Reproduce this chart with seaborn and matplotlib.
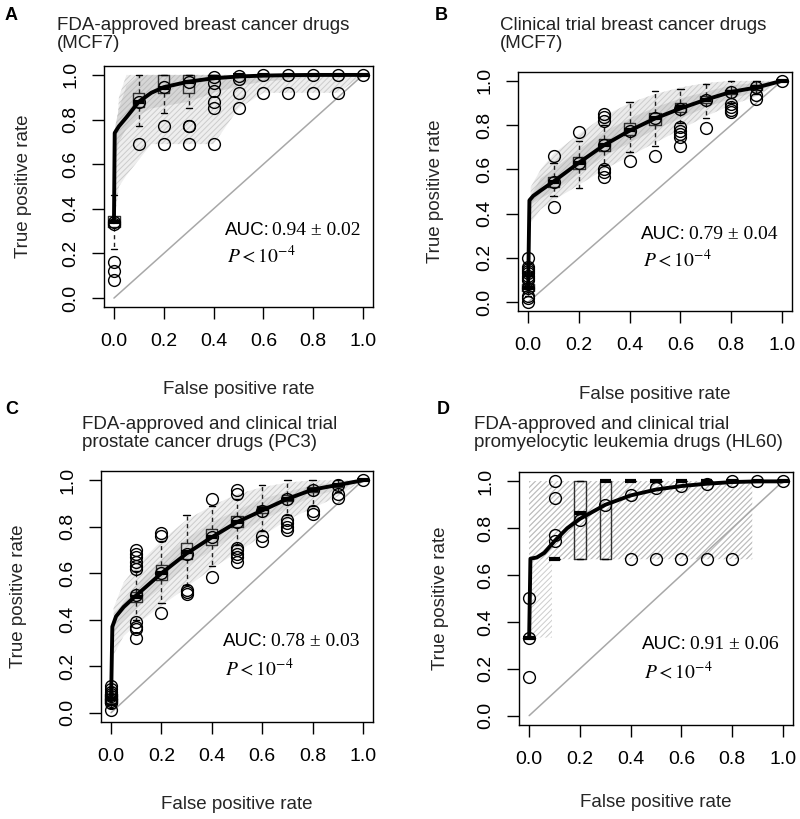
import numpy as np
import pandas as pd
import matplotlib
matplotlib.use("Agg")
import matplotlib.pyplot as plt
import seaborn as sns

# ---------------- data ----------------
FPR = [0.0, 0.1, 0.2, 0.3, 0.4, 0.5, 0.6, 0.7, 0.8, 0.9, 1.0]
TICKS = [0.0, 0.2, 0.4, 0.6, 0.8, 1.0]
TICK_LABELS = ["0.0", "0.2", "0.4", "0.6", "0.8", "1.0"]

# Panel A
A_title = "FDA-approved breast cancer drugs\n(MCF7)"
A_auc = "0.94 \u00b1 0.02"
A_med = [0.34, 0.88, 0.94, 0.97, 0.99, 1.0, 1.0, 1.0, 1.0, 1.0, 1.0]
A_q1 = [0.32, 0.855, 0.92, 0.92, 0.985, 1.0, 1.0, 1.0, 1.0, 1.0, 1.0]
A_q3 = [0.37, 0.92, 1.0, 1.0, 1.0, 1.0, 1.0, 1.0, 1.0, 1.0, 1.0]
A_wlo = [0.22, 0.77, 0.83, 0.85, 0.985, 1.0, 1.0, 1.0, 1.0, 1.0, 1.0]
A_whi = [0.46, 1.0, 1.0, 1.0, 1.0, 1.0, 1.0, 1.0, 1.0, 1.0, 1.0]
A_out = [[0.16, 0.12, 0.08, 0.33], [0.69], [0.77, 0.69], [0.77, 0.77, 0.69],
         [0.965, 0.93, 0.88, 0.85, 0.69], [0.98, 0.92, 0.85], [0.92], [0.92],
         [0.92], [0.92], []]
A_mean = [0.34, 0.88, 0.945, 0.97, 0.99, 0.995, 1.0, 1.0, 1.0, 1.0, 1.0]
A_cx = [0.0, 0.003, 0.02, 0.05, 0.1, 0.15, 0.2, 0.3, 0.4, 0.5, 0.6, 0.7, 0.8, 0.9, 1.0]
A_cy = [0.34, 0.74, 0.77, 0.81, 0.88, 0.92, 0.945, 0.97, 0.985, 0.993, 0.997, 0.999, 1.0, 1.0, 1.0]
A_bx = [0.0, 0.02, 0.05, 0.1, 0.15, 0.2, 0.3, 0.4, 0.5, 0.6, 0.7, 0.8, 0.9, 1.0]
A_olo = [0.33, 0.5, 0.55, 0.62, 0.69, 0.69, 0.69, 0.69, 0.85, 0.92, 0.92, 0.92, 0.92, 1.0]
A_ohi = [0.5, 0.9, 1.0, 1.0, 1.0, 1.0, 1.0, 1.0, 1.0, 1.0, 1.0, 1.0, 1.0, 1.0]
A_ilo = [0.6, 0.7, 0.76, 0.82, 0.85, 0.86, 0.88, 0.92, 0.95, 0.97, 0.98, 0.99, 0.99, 1.0]
A_ihi = [0.74, 0.85, 0.95, 1.0, 1.0, 1.0, 1.0, 1.0, 1.0, 1.0, 1.0, 1.0, 1.0, 1.0]

# Panel B
B_title = "Clinical trial breast cancer drugs\n(MCF7)"
B_auc = "0.79 \u00b1 0.04"
B_med = [0.065, 0.545, 0.63, 0.71, 0.78, 0.83, 0.88, 0.915, 0.95, 0.97, 1.0]
B_q1 = [0.05, 0.52, 0.60, 0.685, 0.755, 0.80, 0.857, 0.90, 0.94, 0.96, 1.0]
B_q3 = [0.08, 0.565, 0.655, 0.735, 0.81, 0.855, 0.90, 0.93, 0.96, 0.98, 1.0]
B_wlo = [0.03, 0.48, 0.515, 0.62, 0.68, 0.705, 0.81, 0.83, 0.90, 0.94, 1.0]
B_whi = [0.12, 0.63, 0.73, 0.80, 0.905, 0.955, 0.965, 0.985, 1.0, 1.0, 1.0]
B_out = [[0.2, 0.16, 0.15, 0.14, 0.13, 0.12, 0.11, 0.10, 0.03, 0.02, 0.0],
         [0.66, 0.43], [0.77], [0.85, 0.835, 0.82, 0.60, 0.59, 0.565], [0.64],
         [0.66], [0.79, 0.775, 0.76, 0.745, 0.705], [0.785],
         [0.895, 0.88, 0.87, 0.86], [0.935, 0.92], []]
B_mean = [0.065, 0.545, 0.63, 0.71, 0.775, 0.83, 0.875, 0.915, 0.95, 0.97, 1.0]
B_cx = [0.0, 0.005, 0.02, 0.05, 0.1, 0.2, 0.3, 0.4, 0.5, 0.6, 0.7, 0.8, 0.9, 1.0]
B_cy = [0.065, 0.46, 0.48, 0.505, 0.545, 0.63, 0.71, 0.775, 0.83, 0.875, 0.915, 0.95, 0.97, 1.0]
B_bx = [0.01, 0.05, 0.1, 0.2, 0.3, 0.4, 0.5, 0.6, 0.7, 0.8, 0.9, 1.0]
B_olo = [0.36, 0.42, 0.46, 0.53, 0.60, 0.66, 0.72, 0.78, 0.84, 0.89, 0.93, 1.0]
B_ohi = [0.52, 0.60, 0.67, 0.76, 0.84, 0.90, 0.94, 0.97, 0.99, 1.0, 1.0, 1.0]
B_ilo = [0.44, 0.47, 0.50, 0.58, 0.66, 0.72, 0.78, 0.83, 0.88, 0.92, 0.95, 1.0]
B_ihi = [0.48, 0.56, 0.60, 0.69, 0.77, 0.83, 0.88, 0.92, 0.95, 0.98, 0.99, 1.0]

# Panel C
C_title = "FDA-approved and clinical trial\nprostate cancer drugs (PC3)"
C_auc = "0.78 \u00b1 0.03"
C_med = [0.06, 0.50, 0.60, 0.69, 0.755, 0.82, 0.875, 0.92, 0.96, 0.98, 1.0]
C_q1 = [0.04, 0.475, 0.57, 0.66, 0.72, 0.80, 0.86, 0.91, 0.95, 0.97, 1.0]
C_q3 = [0.08, 0.52, 0.635, 0.73, 0.79, 0.845, 0.89, 0.935, 0.97, 0.985, 1.0]
C_wlo = [0.02, 0.40, 0.47, 0.55, 0.63, 0.72, 0.78, 0.85, 0.89, 0.95, 1.0]
C_whi = [0.11, 0.61, 0.74, 0.85, 0.89, 0.92, 0.98, 1.0, 1.0, 1.0, 1.0]
C_out = [[0.115, 0.10, 0.09, 0.08, 0.07, 0.06, 0.05, 0.04, 0.01],
         [0.70, 0.685, 0.67, 0.65, 0.63, 0.62, 0.39, 0.37, 0.36, 0.32],
         [0.775, 0.76, 0.43], [0.53, 0.52, 0.51], [0.92, 0.585],
         [0.96, 0.94, 0.71, 0.70, 0.685, 0.67, 0.65], [0.76, 0.74],
         [0.83, 0.815, 0.80, 0.785], [0.87, 0.855], [0.94, 0.925], []]
C_mean = [0.06, 0.505, 0.60, 0.685, 0.755, 0.82, 0.87, 0.92, 0.96, 0.98, 1.0]
C_cx = [0.0, 0.005, 0.02, 0.05, 0.1, 0.2, 0.3, 0.4, 0.5, 0.6, 0.7, 0.8, 0.9, 1.0]
C_cy = [0.05, 0.37, 0.415, 0.455, 0.505, 0.60, 0.685, 0.755, 0.82, 0.87, 0.92, 0.96, 0.98, 1.0]
C_bx = [0.01, 0.05, 0.1, 0.2, 0.3, 0.4, 0.5, 0.6, 0.7, 0.8, 0.9, 1.0]
C_olo = [0.25, 0.33, 0.38, 0.46, 0.54, 0.62, 0.69, 0.76, 0.83, 0.88, 0.93, 1.0]
C_ohi = [0.45, 0.56, 0.63, 0.74, 0.83, 0.89, 0.94, 0.97, 0.99, 1.0, 1.0, 1.0]
C_ilo = [0.34, 0.40, 0.45, 0.54, 0.63, 0.70, 0.77, 0.83, 0.88, 0.93, 0.96, 1.0]
C_ihi = [0.40, 0.48, 0.55, 0.66, 0.75, 0.82, 0.87, 0.92, 0.95, 0.98, 0.99, 1.0]

# Panel D
D_title = "FDA-approved and clinical trial\npromyelocytic leukemia drugs (HL60)"
D_auc = "0.91 \u00b1 0.06"
D_med = [0.333, 0.667, 0.867, 1.0, 1.0, 1.0, 1.0, 1.0, 1.0, 1.0, 1.0]
D_q1 = [0.333, 0.667, 0.667, 0.667, 1.0, 1.0, 1.0, 1.0, 1.0, 1.0, 1.0]
D_q3 = [0.333, 0.667, 1.0, 1.0, 1.0, 1.0, 1.0, 1.0, 1.0, 1.0, 1.0]
D_wlo = [0.333, 0.667, 0.667, 0.667, 1.0, 1.0, 1.0, 1.0, 1.0, 1.0, 1.0]
D_whi = [0.333, 0.667, 1.0, 1.0, 1.0, 1.0, 1.0, 1.0, 1.0, 1.0, 1.0]
D_out = [[0.5, 0.167], [1.0, 0.93, 0.77], [], [], [0.667], [0.667], [0.667],
         [0.667], [0.667], [], []]
D_mean = [0.333, 0.745, 0.835, 0.90, 0.94, 0.97, 0.98, 0.99, 1.0, 1.0, 1.0]
D_cx = [0.0, 0.005, 0.03, 0.06, 0.1, 0.15, 0.2, 0.3, 0.4, 0.5, 0.6, 0.7, 0.8, 0.9, 1.0]
D_cy = [0.333, 0.67, 0.675, 0.695, 0.745, 0.80, 0.84, 0.90, 0.94, 0.965, 0.98, 0.99, 0.997, 1.0, 1.0]
D_bx = [0.0, 0.09, 0.0901, 0.5, 0.88]
D_olo = [0.333, 0.333, 0.667, 0.667, 0.667]
D_ohi = [1.0, 1.0, 1.0, 1.0, 1.0]
D_ilo = [0.667, 0.667, 0.667, 0.667, 0.667]
D_ihi = [1.0, 1.0, 1.0, 1.0, 1.0]

# ---------------- style ----------------
sns.set_style("ticks")
plt.rcParams["font.family"] = ["Liberation Sans", "DejaVu Sans"]
plt.rcParams["mathtext.fontset"] = "stix"
plt.rcParams["hatch.linewidth"] = 0.7

W, H = 800, 819
fig = plt.figure(figsize=(W / 100, H / 100), dpi=100)


def px_axes(l, t, r, b):
    return fig.add_axes([l / W, 1 - b / H, (r - l) / W, (b - t) / H])


panels = [
    dict(letter="A", lpos=(5, 7), tpos=(57, 17), rect=(104, 66, 373, 307),
         ylab_x=25, xlab_y=381, title=A_title, auc=A_auc,
         face="#d6d6d6", oface="#eeeeee",
         med=A_med, q1=A_q1, q3=A_q3, wlo=A_wlo, whi=A_whi, out=A_out,
         mean=A_mean, cx=A_cx, cy=A_cy, bx=A_bx, olo=A_olo, ohi=A_ohi,
         ilo=A_ilo, ihi=A_ihi),
    dict(letter="B", lpos=(435, 7), tpos=(500, 17), rect=(518, 72, 792, 311),
         ylab_x=437, xlab_y=386, title=B_title, auc=B_auc,
         face="#d4d4d4", oface="#ebebeb",
         med=B_med, q1=B_q1, q3=B_q3, wlo=B_wlo, whi=B_whi, out=B_out,
         mean=B_mean, cx=B_cx, cy=B_cy, bx=B_bx, olo=B_olo, ohi=B_ohi,
         ilo=B_ilo, ihi=B_ihi),
    dict(letter="C", lpos=(5, 401), tpos=(82, 416), rect=(101, 471, 373, 722),
         ylab_x=20, xlab_y=796, title=C_title, auc=C_auc,
         face="#dcdcdc", oface="#efefef",
         med=C_med, q1=C_q1, q3=C_q3, wlo=C_wlo, whi=C_whi, out=C_out,
         mean=C_mean, cx=C_cx, cy=C_cy, bx=C_bx, olo=C_olo, ohi=C_ohi,
         ilo=C_ilo, ihi=C_ihi),
    dict(letter="D", lpos=(437, 401), tpos=(474, 416), rect=(519, 472, 793, 725),
         ylab_x=442, xlab_y=794, title=D_title, auc=D_auc,
         face="none", oface="none",
         med=D_med, q1=D_q1, q3=D_q3, wlo=D_wlo, whi=D_whi, out=D_out,
         mean=D_mean, cx=D_cx, cy=D_cy, bx=D_bx, olo=D_olo, ohi=D_ohi,
         ilo=D_ilo, ihi=D_ihi),
]

for p in panels:
    l, t, r, b = p["rect"]
    ax = px_axes(l, t, r, b)
    ax.set_xlim(-0.04, 1.04)
    ax.set_ylim(-0.04, 1.04)

    # background band of individual ROC curves
    ax.fill_between(p["bx"], p["olo"], p["ohi"], facecolor=p["oface"],
                    edgecolor="#cccccc", hatch="//////", linewidth=0, zorder=1)
    ax.fill_between(p["bx"], p["ilo"], p["ihi"], facecolor=p["face"],
                    edgecolor="#bdbdbd", hatch="//////", linewidth=0, zorder=1)

    # diagonal
    ax.plot([0, 1], [0, 1], color="#a8a8a8", lw=1.1, zorder=2)

    # boxplots
    stats = []
    for m, a, c, lo, hi, f in zip(p["med"], p["q1"], p["q3"], p["wlo"], p["whi"], p["out"]):
        stats.append(dict(med=m, q1=a, q3=c, whislo=lo, whishi=hi, fliers=f))
    ax.bxp(stats, positions=FPR, widths=0.045, capwidths=0.025,
           manage_ticks=False, showfliers=True,
           boxprops=dict(color="#303030", lw=1),
           whiskerprops=dict(color="#202020", lw=1, ls=(0, (3, 2.5))),
           capprops=dict(color="black", lw=1),
           medianprops=dict(color="black", lw=3, solid_capstyle="butt"),
           flierprops=dict(marker="o", mfc="none", mec="black", ms=8.5, mew=1),
           zorder=3)

    # mean ROC curve
    sns.lineplot(x=p["cx"], y=p["cy"], ax=ax, color="black", linewidth=2.8,
                 sort=False, estimator=None, zorder=4)
    ax.plot(FPR, p["mean"], ls="none", marker="o", mfc="none", mec="black",
            ms=8.5, mew=1, zorder=5)

    # axes styling
    for s in ax.spines.values():
        s.set_color("black")
        s.set_linewidth(1)
    ax.set_xticks(TICKS)
    ax.set_xticklabels(TICK_LABELS)
    ax.set_yticks(TICKS)
    ax.set_yticklabels(TICK_LABELS, rotation=90, va="center")
    ax.tick_params(axis="both", length=8.5, width=1, color="black",
                   labelsize=14, labelcolor="black", direction="out")
    ax.tick_params(axis="x", pad=10)
    ax.tick_params(axis="y", pad=9)

    axw, axh = r - l, b - t
    ax.set_xlabel("False positive rate", fontsize=13.5)
    ax.xaxis.label.set_va("top")
    ax.xaxis.set_label_coords(0.5, (b - p["xlab_y"]) / axh)
    ax.set_ylabel("True positive rate", fontsize=13.5)
    ax.yaxis.set_label_coords((p["ylab_x"] + 7 - l) / axw, 0.5)

    # AUC / P annotations
    t1 = ax.text(0.445, 0.305, "AUC:", fontsize=13.5, va="center", ha="left",
                 color="black")
    ax.annotate(p["auc"], xy=(1, 0), xycoords=t1, xytext=(2, 0),
                textcoords="offset points", va="bottom", ha="left",
                fontsize=14, family="Liberation Serif", color="black")
    ax.text(0.452, 0.19, r"$P<10^{-4}$", fontsize=14, va="center", ha="left",
            color="black")

    # title and panel letter
    fig.text(p["tpos"][0] / W, 1 - p["tpos"][1] / H, p["title"], fontsize=13.5,
             va="top", ha="left", linespacing=1.08, color="#222222")
    fig.text(p["lpos"][0] / W, 1 - p["lpos"][1] / H, p["letter"], fontsize=13,
             fontweight="bold", va="top", ha="left", color="black")

fig.savefig("out.png", dpi=100)
